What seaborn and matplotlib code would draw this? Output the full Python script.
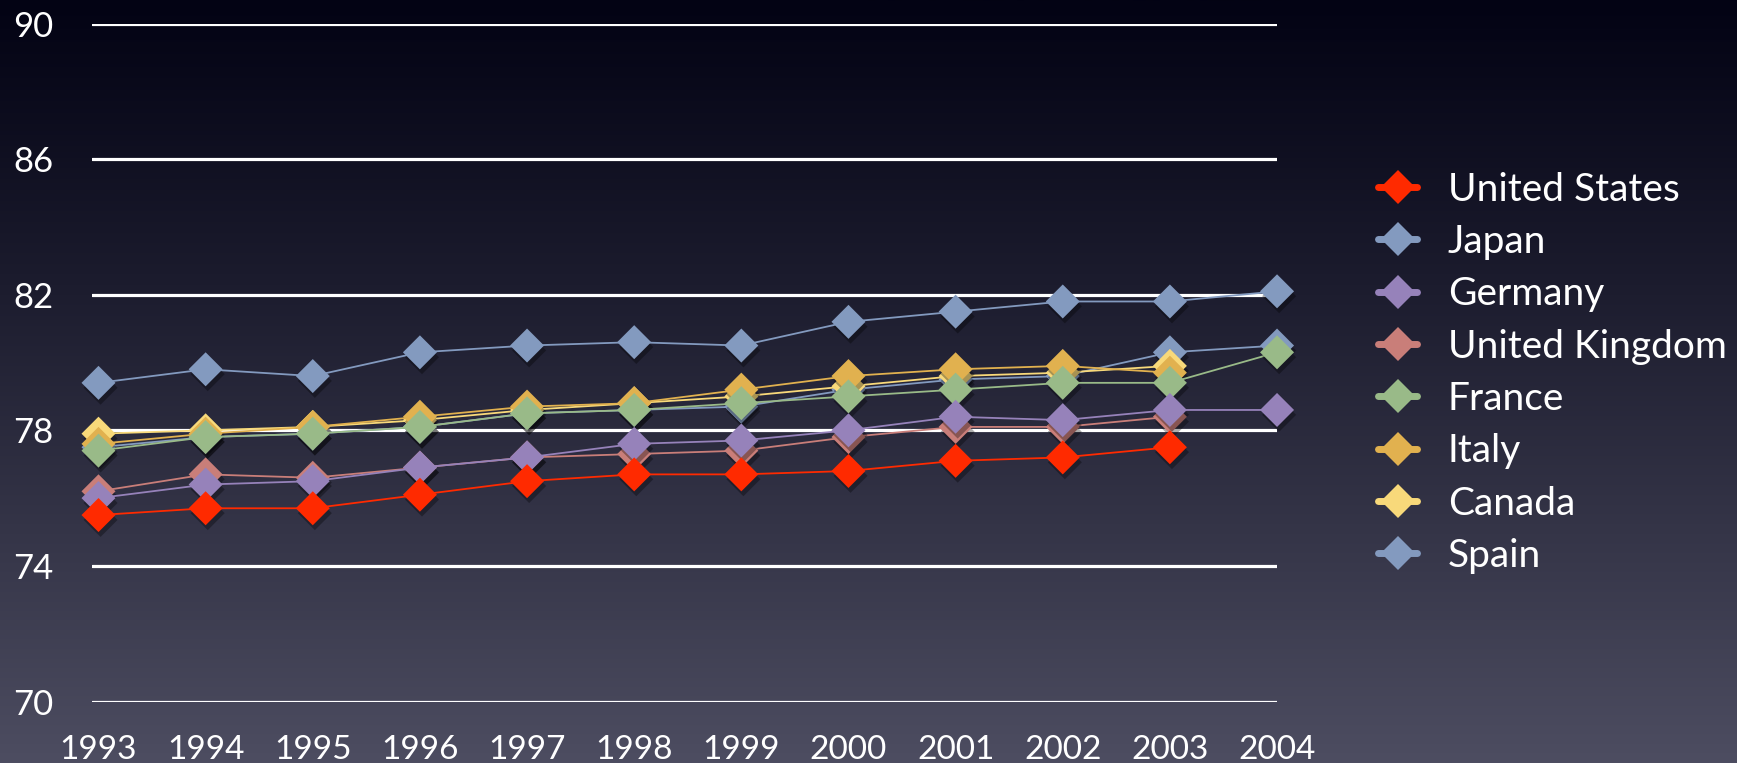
import numpy as np
import pandas as pd
import matplotlib
matplotlib.use("Agg")
import matplotlib.pyplot as plt
import matplotlib.patheffects as pe
from matplotlib.lines import Line2D
import seaborn as sns

# Life expectancy at birth (years), 1993-2004
years = list(range(1993, 2005))
countries = ["United States", "Japan", "Germany", "United Kingdom",
             "France", "Italy", "Canada", "Spain"]

united_states  = [75.5, 75.7, 75.7, 76.1, 76.5, 76.7, 76.7, 76.8, 77.1, 77.2, 77.5, np.nan]
japan          = [79.4, 79.8, 79.6, 80.3, 80.5, 80.6, 80.5, 81.2, 81.5, 81.8, 81.8, 82.1]
germany        = [76.0, 76.4, 76.5, 76.9, 77.2, 77.6, 77.7, 78.0, 78.4, 78.3, 78.6, 78.6]
united_kingdom = [76.2, 76.7, 76.6, 76.9, 77.2, 77.3, 77.4, 77.8, 78.1, 78.1, 78.4, np.nan]
france         = [77.4, 77.8, 77.9, 78.1, 78.5, 78.6, 78.8, 79.0, 79.2, 79.4, 79.4, 80.3]
italy          = [77.6, 77.9, 78.1, 78.4, 78.7, 78.8, 79.2, 79.6, 79.8, 79.9, 79.7, np.nan]
canada         = [77.9, 78.0, 78.1, 78.3, 78.6, 78.8, 79.0, 79.3, 79.6, 79.7, 79.9, np.nan]
spain          = [77.5, 77.8, 77.9, 78.1, 78.5, 78.6, 78.7, 79.2, 79.5, 79.6, 80.3, 80.5]

y_ticks = [70, 74, 78, 82, 86, 90]

series = [united_states, japan, germany, united_kingdom, france, italy, canada, spain]
palette = {
    "United States": "#ff2a00",
    "Japan": "#839abf",
    "Germany": "#9682ba",
    "United Kingdom": "#c97e79",
    "France": "#99ba88",
    "Italy": "#e1b14f",
    "Canada": "#f8d97a",
    "Spain": "#839abf",
}

df = pd.DataFrame(
    [(c, yr, v) for c, vals in zip(countries, series) for yr, v in zip(years, vals)],
    columns=["country", "year", "life_exp"],
).dropna()

sns.set_style("dark")
plt.rcParams["font.family"] = ["Lato", "DejaVu Sans"]

fig = plt.figure(figsize=(17.37, 7.63), dpi=100)

# vertical gradient backdrop
bg = fig.add_axes([0, 0, 1, 1], zorder=-10)
t = np.linspace(0, 1, 512) ** 1.1
top = np.array([3, 3, 20]) / 255
bottom = np.array([77, 77, 97]) / 255
grad = top[None, :] * (1 - t[:, None]) + bottom[None, :] * t[:, None]
bg.imshow(grad[:, None, :], aspect="auto", extent=[0, 1, 0, 1], origin="upper")
bg.set_axis_off()

ax = fig.add_axes([0.053, 0.0806, 0.6822, 0.8886])
ax.set_facecolor("none")

shadow = [pe.SimplePatchShadow(offset=(1.5, -3.5), shadow_rgbFace="black", alpha=0.32),
          pe.Normal()]

# draw from the last legend entry up, so the United States sits on top
for z, country in enumerate(reversed(countries)):
    sub = df[df["country"] == country]
    sns.lineplot(data=sub, x="year", y="life_exp", color=palette[country],
                 linewidth=1.3, ax=ax, zorder=3 + 2 * z, legend=False)
    sns.scatterplot(data=sub, x="year", y="life_exp", color=palette[country],
                    marker="D", s=300, linewidth=0, ax=ax, zorder=4 + 2 * z,
                    legend=False, clip_on=False, path_effects=shadow)

ax.set_xlim(1992.94, 2004.0)
ax.set_ylim(70, 90)
ax.set_yticks(y_ticks)
ax.set_xticks(years)
ax.set_xticklabels([str(y) for y in years])
ax.set_xlabel("")
ax.set_ylabel("")
ax.set_axisbelow(True)
ax.grid(axis="y", color="white", linewidth=2.3)
ax.grid(axis="x", visible=False)
for s in ax.spines.values():
    s.set_visible(False)
ax.tick_params(axis="y", length=0, pad=28, labelsize=25, labelcolor="white")
ax.tick_params(axis="x", length=0, pad=24, labelsize=24, labelcolor="white")

handles = [Line2D([0], [0], color=palette[c], lw=5, marker="D", markersize=17,
                  markeredgewidth=0) for c in countries]
ax.legend(handles, countries, loc="upper left", bbox_to_anchor=(0.7936, 0.775),
          bbox_transform=fig.transFigure, frameon=False, fontsize=28,
          labelcolor="white", handlelength=1.0, handletextpad=0.78,
          labelspacing=0.42, borderpad=0, borderaxespad=0)

fig.savefig("out.png", dpi=100)
